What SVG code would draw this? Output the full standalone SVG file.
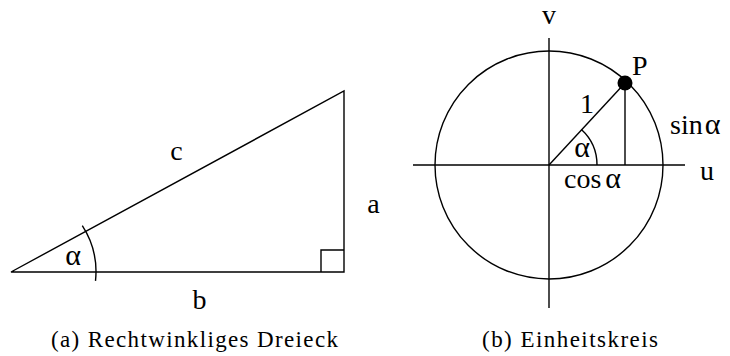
<svg xmlns="http://www.w3.org/2000/svg" width="730" height="356" viewBox="0 0 730 356">
<style>
.ln{fill:none;stroke:#000;stroke-width:1.4}
.lb{font-family:'Liberation Serif','Times New Roman',Times,serif;font-size:28px;fill:#000}
.al{font-size:30px}
.cap{font-family:'Liberation Serif','Times New Roman',Times,serif;font-size:23px;fill:#000}
.m{text-anchor:middle}
</style>
<rect width="730" height="356" fill="#fff"/>
<g id="triangle">
<path class="ln" d="M11 272 L344 272 L344 91 Z"/>
<path class="ln" d="M321 272 L321 250 L344 250"/>
<path class="ln" d="M82.3 225.7 A85 85 0 0 1 95.5 280.9"/>
<text class="lb m" x="176.5" y="160">c</text>
<text class="lb m" x="373.5" y="213">a</text>
<text class="lb m" x="199.5" y="309">b</text>
<text class="lb al m" x="73" y="265">α</text>
</g>
<g id="unitcircle">
<circle class="ln" cx="549" cy="165" r="114"/>
<line class="ln" x1="413" y1="165" x2="685" y2="165"/>
<line class="ln" x1="549" y1="38" x2="549" y2="308"/>
<line class="ln" x1="549" y1="165" x2="625" y2="83"/>
<line class="ln" x1="625" y1="83" x2="625" y2="165"/>
<path class="ln" d="M581.4 129.6 A48 48 0 0 1 597 165"/>
<circle cx="625" cy="83" r="7.5" fill="#000"/>
<text class="lb m" x="549" y="24">v</text>
<text class="lb" x="632" y="75">P</text>
<text class="lb m" x="587" y="113">1</text>
<text class="lb al m" x="582" y="157">α</text>
<text class="lb" x="670" y="134">sin<tspan class="al" dx="2">α</tspan></text>
<text class="lb" x="564" y="188">cos<tspan class="al" dx="4">α</tspan></text>
<text class="lb m" x="707" y="180">u</text>
</g>
<g id="captions">
<text class="cap" x="51" y="347" textLength="287">(a) Rechtwinkliges Dreieck</text>
<text class="cap" x="482" y="347" textLength="176">(b) Einheitskreis</text>
</g>
</svg>
